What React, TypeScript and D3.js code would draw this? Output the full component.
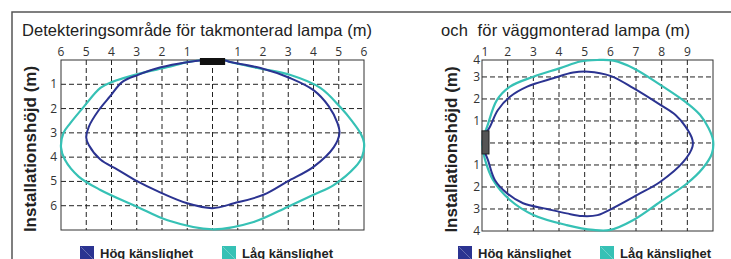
import * as d3 from 'd3'

// ceiling lamp: x = horizontal distance (m), y = depth below lamp (m)
const hogTak: [number, number][] = [
  [-0.5, 0.02], [-0.95, 0.08], [-2.05, 0.3], [-2.97, 0.62], [-3.57, 0.9], [-4.06, 1.5],
  [-4.5, 2.06], [-4.9, 2.75], [-5.0, 3.2], [-4.9, 3.5], [-4.44, 4.1], [-3.78, 4.5],
  [-2.97, 5.0], [-2.18, 5.4], [-1.0, 5.9], [0, 6.1], [0.85, 5.9], [2.02, 5.55],
  [2.97, 5.0], [4.0, 4.4], [4.8, 3.6], [5.03, 3.0], [4.95, 2.6], [4.6, 1.9],
  [4.0, 1.24], [3.09, 0.75], [1.9, 0.33], [0.7, 0.08], [0.5, 0.02],
]
const lagTak: [number, number][] = [
  [-0.5, 0.02], [-0.95, 0.08], [-1.8, 0.3], [-2.85, 0.55], [-3.97, 0.9], [-4.44, 1.15],
  [-5.1, 1.93], [-5.63, 2.6], [-5.9, 3.0], [-6.0, 3.6], [-5.85, 4.1], [-5.3, 4.8],
  [-4.44, 5.35], [-2.97, 6.05], [-1.78, 6.6], [0, 6.97], [1.63, 6.67], [2.97, 6.05],
  [4.0, 5.55], [4.8, 5.15], [5.66, 4.4], [5.92, 4.0], [6.0, 3.4], [5.85, 3.0],
  [5.55, 2.55], [5.05, 1.93], [4.27, 1.15], [3.09, 0.62], [1.78, 0.33], [0.7, 0.08], [0.5, 0.02],
]

// wall lamp: x = distance from wall (m), y = height relative to lamp (m)
const hogVagg: [number, number][] = [
  [1.05, 0.2], [1.31, 0.74], [1.62, 1.5], [2.09, 2.1], [2.76, 2.56], [3.77, 2.94],
  [4.55, 3.2], [5.14, 3.24], [6.0, 3.05], [6.9, 2.49], [7.95, 1.73], [8.54, 1.27],
  [8.93, 0.74], [9.2, 0.14], [9.2, -0.17], [8.85, -0.85], [7.95, -1.76], [7.05, -2.36],
  [6.12, -2.95], [5.5, -3.28], [4.9, -3.32], [4.3, -3.2], [3.54, -3.0], [2.6, -2.74],
  [1.98, -2.29], [1.5, -1.68], [1.23, -0.77], [1.04, -0.17],
]
const lagVagg: [number, number][] = [
  [1.04, 0.2], [1.2, 0.74], [1.58, 1.95], [2.09, 2.56], [3.0, 3.01], [4.05, 3.4],
  [4.83, 3.7], [5.49, 3.77], [6.12, 3.74], [6.9, 3.4], [7.95, 2.64], [9.0, 1.8],
  [9.5, 1.27], [9.83, 0.67], [10.0, 0.14], [9.96, -0.47], [9.6, -1.15], [9.0, -1.83],
  [7.95, -2.67], [6.9, -3.5], [6.0, -3.95], [5.34, -3.95], [4.3, -3.73], [3.0, -3.27],
  [2.09, -2.59], [1.43, -1.68], [1.12, -0.77], [1.02, -0.17],
]

const takXTicks = [-6, -5, -4, -3, -2, -1, 0, 1, 2, 3, 4, 5, 6]
const takYTicks = [1, 2, 3, 4, 5, 6]
const vaggXTicks = [1, 2, 3, 4, 5, 6, 7, 8, 9]
const vaggYTicks = [3, 2, 1, 0, -1, -2, -3]
const vaggYLabels = [4, 3, 2, 1, -1, -2, -3, -4]

const titleTak = 'Detekteringsområde för takmonterad lampa (m)'
const titleVagg = 'och  för väggmonterad lampa (m)'
const yTitle = 'Installationshöjd (m)'
const legendLabels = ['Hög känslighet', 'Låg känslighet']

const BLUE = '#2b3391'
const TEAL = '#36c1b5'
const tickFont = '"Open Sans", sans-serif'
const font = '"Liberation Sans", Arial, sans-serif'

function Legend({ x, gap }: { x: number; gap: number }) {
  return (
    <g>
      {[BLUE, TEAL].map((c, i) => (
        <g key={i} transform={`translate(${x + i * gap},246)`}>
          <rect width={14} height={14} fill={c} />
          <line x1={1} y1={1} x2={13} y2={13} stroke="#fff" strokeOpacity={0.35} strokeWidth={0.8} />
          <text x={20} y={11.5} fontFamily={font} fontWeight="bold" fontSize={13} fill="#222">
            {legendLabels[i]}
          </text>
        </g>
      ))}
    </g>
  )
}

export default function App() {
  const xL = d3.scaleLinear([-6, 6], [61, 364])
  const yL = d3.scaleLinear([0, 7], [60, 230])
  const xR = d3.scaleLinear([1, 10], [482, 713])
  const yR = d3.scaleLinear([3.77, -4], [60, 231])

  const lineL = d3.line<[number, number]>().x(d => xL(d[0])).y(d => yL(d[1])).curve(d3.curveCatmullRomClosed)
  const lineR = d3.line<[number, number]>().x(d => xR(d[0])).y(d => yR(d[1])).curve(d3.curveCatmullRomClosed)

  const [l0, l1] = xL.range()
  const [t0, t1] = yL.range()
  const [r0, r1] = xR.range()
  const [u0, u1] = yR.range()

  return (
    <svg width={731} height={259} style={{ position: 'absolute', left: 0, top: 0 }}>
      <rect width={731} height={259} fill="#fff" />
      {/* outer frame */}
      <path d="M12,259V12H731" fill="none" stroke="#555" strokeWidth={1.5} />

      {/* ---- left chart ---- */}
      <text x={22} y={36} fontFamily={font} fontSize={16.5} fill="#222"
        textLength={350} lengthAdjust="spacing">{titleTak}</text>
      <g stroke="#222" strokeWidth={1} strokeDasharray="5,3">
        {takXTicks.slice(1, -1).map(t => (
          <line key={t} x1={xL(t)} x2={xL(t)} y1={t0} y2={t1} />
        ))}
        {takYTicks.map(t => (
          <line key={t} x1={l0} x2={l1} y1={yL(t)} y2={yL(t)} />
        ))}
      </g>
      <rect x={l0} y={t0} width={l1 - l0} height={t1 - t0} fill="none" stroke="#333" />
      <g fontFamily={tickFont} fontSize={12} fill="#333" textAnchor="middle">
        {takXTicks.filter(t => t !== 0).map(t => (
          <text key={t} x={xL(t)} y={56}>{Math.abs(t)}</text>
        ))}
      </g>
      <g fontFamily={tickFont} fontSize={12} fill="#333" textAnchor="end">
        {takYTicks.map(t => (
          <text key={t} x={57} y={yL(t) + 4}>{t}</text>
        ))}
      </g>
      <text transform={`translate(36,${(t0 + t1) / 2 + 4}) rotate(-90)`} textAnchor="middle"
        fontFamily={font} fontWeight="bold" fontSize={17} fill="#222">{yTitle}</text>
      <path d={lineL(lagTak) ?? undefined} fill="none" stroke={TEAL} strokeWidth={2.2} />
      <path d={lineL(hogTak) ?? undefined} fill="none" stroke={BLUE} strokeWidth={2} />
      <rect x={xL(-0.5)} y={t0 - 2} width={xL(0.5) - xL(-0.5)} height={7} fill="#111" />
      <Legend x={80} gap={142} />

      {/* ---- right chart ---- */}
      <text x={441} y={36} fontFamily={font} fontSize={16.5} fill="#222" style={{ whiteSpace: 'pre' }}
        textLength={249} lengthAdjust="spacing">{titleVagg}</text>
      <g stroke="#222" strokeWidth={1} strokeDasharray="5,3">
        {vaggXTicks.slice(1).map(t => (
          <line key={t} x1={xR(t)} x2={xR(t)} y1={u0} y2={u1} />
        ))}
        {vaggYTicks.map(t => (
          <line key={t} x1={r0} x2={r1} y1={yR(t)} y2={yR(t)} />
        ))}
      </g>
      <rect x={r0} y={u0} width={r1 - r0} height={u1 - u0} fill="none" stroke="#333" />
      <g fontFamily={tickFont} fontSize={12} fill="#333" textAnchor="middle">
        {vaggXTicks.map(t => (
          <text key={t} x={xR(t) + (t === 1 ? 3 : 0)} y={56}>{t}</text>
        ))}
      </g>
      <g fontFamily={tickFont} fontSize={12} fill="#333" textAnchor="end">
        {vaggYLabels.map(t => (
          <text key={t} x={480} y={Math.max(u0, Math.min(u1, yR(t))) + 4}>{Math.abs(t)}</text>
        ))}
      </g>
      <text transform={`translate(457,${(u0 + u1) / 2 + 4}) rotate(-90)`} textAnchor="middle"
        fontFamily={font} fontWeight="bold" fontSize={17} fill="#222">{yTitle}</text>
      <path d={lineR(lagVagg) ?? undefined} fill="none" stroke={TEAL} strokeWidth={2.2} />
      <path d={lineR(hogVagg) ?? undefined} fill="none" stroke={BLUE} strokeWidth={2} />
      <rect x={r0} y={yR(0.55)} width={7} height={yR(-0.5) - yR(0.55)} fill="#555" stroke="#222" strokeWidth={1} />
      <Legend x={458} gap={142} />
    </svg>
  )
}
